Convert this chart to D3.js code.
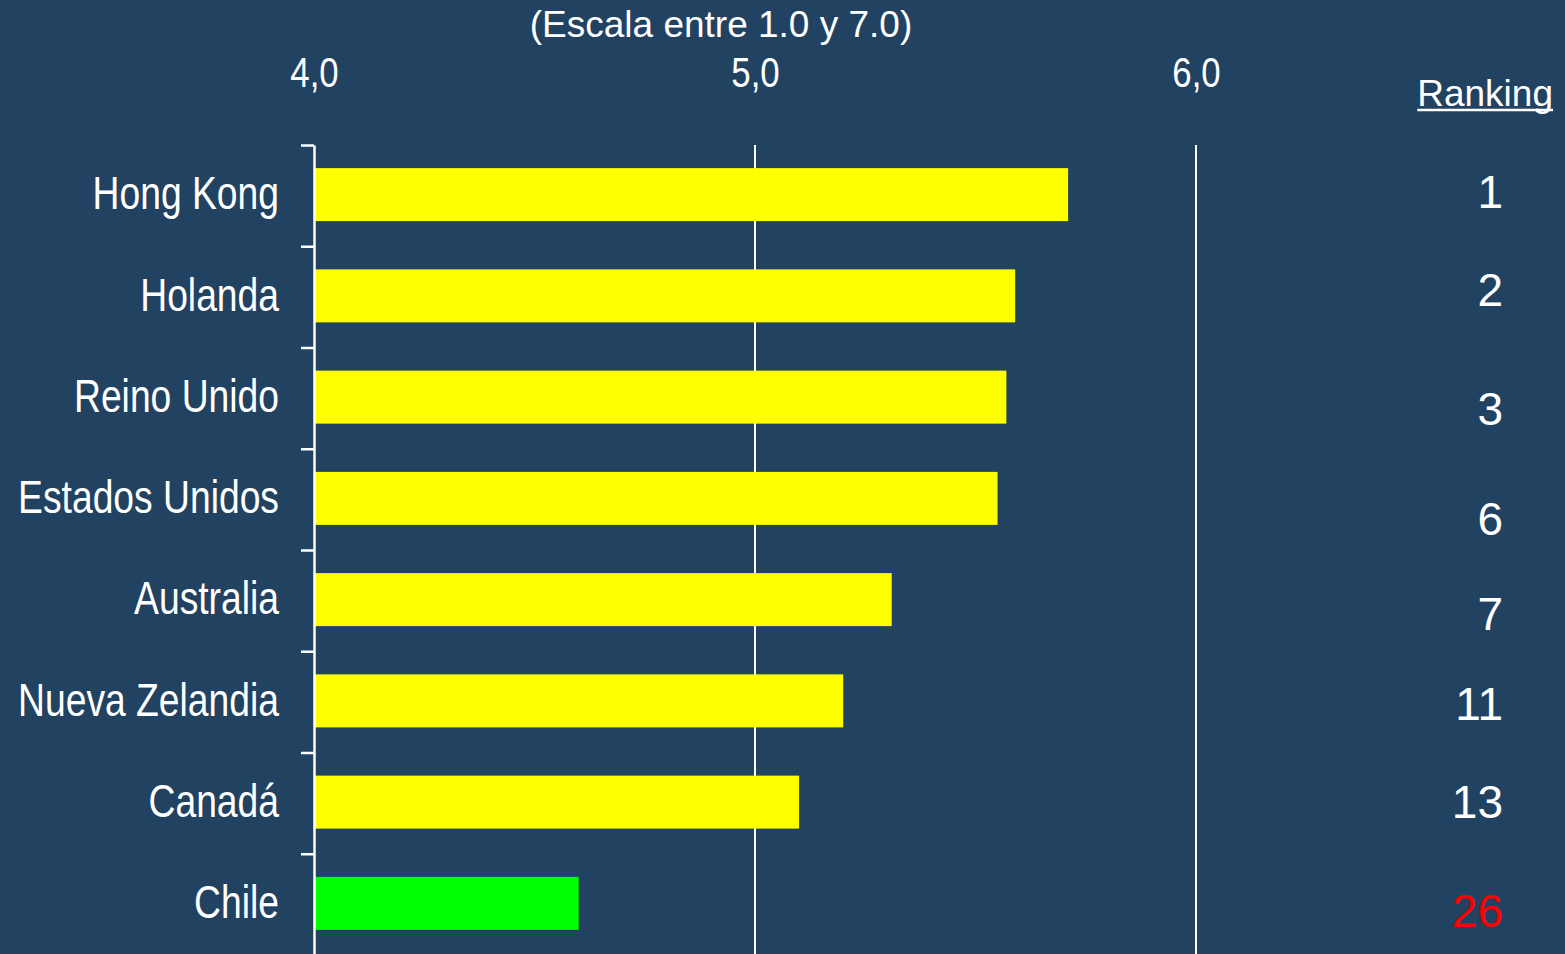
<!DOCTYPE html>
<html>
<head>
<meta charset="utf-8">
<script src="https://cdn.jsdelivr.net/npm/d3@7"></script>
<style>
  html, body { margin: 0; padding: 0; background: #224262; overflow: hidden; }
  .narrow, .reg { font-family: "Liberation Sans", Arial, sans-serif; }
</style>
</head>
<body>
<script>
// índice de competitividad, escala 1.0 - 7.0
const countries = ["Hong Kong", "Holanda", "Reino Unido", "Estados Unidos", "Australia", "Nueva Zelandia", "Canadá", "Chile"];
const scores = [5.71, 5.59, 5.57, 5.55, 5.31, 5.20, 5.10, 4.60];
const ranking = [1, 2, 3, 6, 7, 11, 13, 26];
const xTicks = [4, 5, 6];
const title = "(Escala entre 1.0 y 7.0)";

const width = 1565, height = 954;
const bg = "#224262";
const squeeze = 0.81; // no Arial Narrow here, so condense by hand

// the ranking numbers are hand placed in the original, a bit off the rows
const rankNudge = [-4, -7, 10, 19, 13, 2, -2, 6];

const data = countries.map(function(c, i) {
  return { country: c, score: scores[i], rank: ranking[i], i: i };
});

const svg = d3.select("body")
  .append("svg")
  .attr("width", width)
  .attr("height", height)
  .style("background", bg);

const x = d3.scaleLinear().domain([4, 6]).range([314, 1196]);

const y = d3.scaleBand()
  .domain(countries)
  .range([145, 955])
  .padding(0);

const barH = 53;

// gridlines at 5 and 6
svg.selectAll("line.grid")
  .data(xTicks.filter(function(t) { return t > 4; }))
  .enter()
  .append("line")
  .attr("class", "grid")
  .attr("x1", function(d) { return x(d); })
  .attr("x2", function(d) { return x(d); })
  .attr("y1", 145)
  .attr("y2", height)
  .attr("stroke", "#ffffff")
  .attr("stroke-width", 2);

// top tick labels
const topAxis = svg.append("g")
  .attr("transform", "translate(0,87)")
  .call(d3.axisTop(x).tickValues(xTicks).tickSize(0).tickFormat(function(d) {
    return d3.format(".1f")(d).replace(".", ",");
  }));
topAxis.select(".domain").remove();
topAxis.selectAll("text")
  .attr("class", "narrow")
  .attr("y", 0)
  .attr("dy", 0)
  .attr("transform", "scale(0.83,1)")
  .attr("fill", "#ffffff")
  .style("font-size", "42px");

// bars
svg.selectAll("rect.bar")
  .data(data)
  .enter()
  .append("rect")
  .attr("class", "bar")
  .attr("x", x(4) + 1)
  .attr("y", function(d) { return y(d.country) + (y.bandwidth() - barH) / 2 - 1; })
  .attr("width", function(d) { return x(d.score) - x(4) - 1; })
  .attr("height", barH)
  .attr("fill", function(d) { return d.country === "Chile" ? "#00ff00" : "#ffff00"; });

// left axis with ticks between the rows
const idx = d3.scaleLinear().domain([0, countries.length]).range([145, 955]);
const leftAxis = svg.append("g")
  .attr("transform", "translate(" + x(4) + ",0)")
  .call(d3.axisLeft(idx).tickValues(d3.range(countries.length + 1)).tickSize(13).tickSizeOuter(0).tickFormat(""));
leftAxis.selectAll("line, path")
  .attr("stroke", "#ffffff")
  .attr("stroke-width", 2.5);

// country names
svg.selectAll("text.country")
  .data(data)
  .enter()
  .append("text")
  .attr("class", "country narrow")
  .attr("transform", function(d) {
    return "translate(279," + (y(d.country) + y.bandwidth() / 2) + ") scale(" + squeeze + ",1)";
  })
  .attr("dy", "0.3em")
  .attr("text-anchor", "end")
  .attr("fill", "#ffffff")
  .style("font-size", "46px")
  .text(function(d) { return d.country; });

// ranking column
svg.selectAll("text.rank")
  .data(data)
  .enter()
  .append("text")
  .attr("class", "rank reg")
  .attr("x", 1503)
  .attr("y", function(d) { return y(d.country) + y.bandwidth() / 2 + rankNudge[d.i]; })
  .attr("dy", "0.36em")
  .attr("text-anchor", "end")
  .attr("fill", function(d) { return d.country === "Chile" ? "#ff0000" : "#ffffff"; })
  .style("font-size", "46px")
  .text(function(d) { return d.rank; });

const head = svg.append("text")
  .attr("class", "reg")
  .attr("x", 1553)
  .attr("y", 106)
  .attr("text-anchor", "end")
  .attr("fill", "#ffffff")
  .style("font-size", "37px")
  .text("Ranking");
const hb = head.node().getBBox();
svg.append("line")
  .attr("x1", hb.x)
  .attr("x2", hb.x + hb.width)
  .attr("y1", 110)
  .attr("y2", 110)
  .attr("stroke", "#ffffff")
  .attr("stroke-width", 2.5);

// subtitle
svg.append("text")
  .attr("class", "reg")
  .attr("x", 721)
  .attr("y", 37)
  .attr("text-anchor", "middle")
  .attr("fill", "#ffffff")
  .style("font-size", "37px")
  .text(title);
</script>
</body>
</html>
